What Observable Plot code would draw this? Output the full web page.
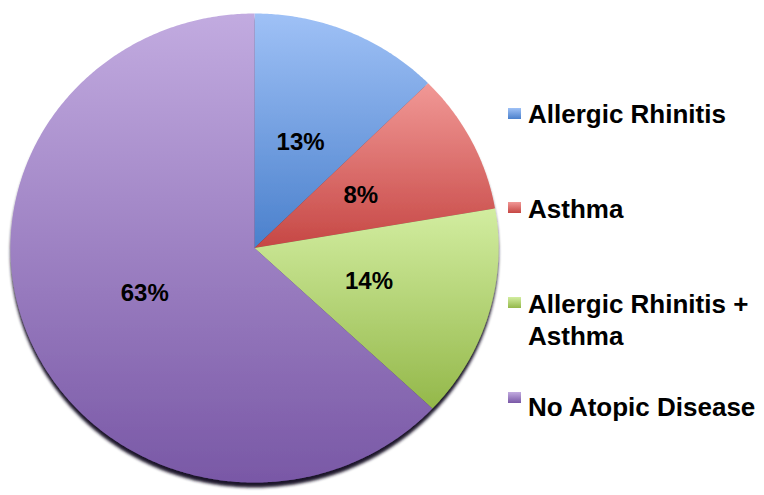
<!DOCTYPE html>
<html>
<head>
<meta charset="utf-8">
<script src="https://cdn.jsdelivr.net/npm/d3@7"></script>
<script src="https://cdn.jsdelivr.net/npm/@observablehq/plot@0.6"></script>
<style>
  html, body { margin: 0; padding: 0; background: #fff; }
  #wrap { position: relative; width: 764px; height: 495px; overflow: hidden; font-family: "Liberation Sans", Arial, sans-serif; }
  #wrap svg { position: absolute; left: 0; top: 0; }
  .leg { position: absolute; left: 528px; font-size: 26px; font-weight: bold; line-height: 32px; color: #000; white-space: nowrap; }
  .sw { position: absolute; left: 508px; width: 13px; height: 11px; }
</style>
</head>
<body>
<div id="wrap"></div>
<script>
// ---- data ----
const categories = ["Allergic Rhinitis", "Asthma", "Allergic Rhinitis + Asthma", "No Atopic Disease"];
const shares = [12.6, 9.7, 14.7, 63.0];           // slice sizes
const pctLabels = ["13%", "8%", "14%", "63%"];    // labels printed on the slices
const colorsTop = ["#9fc1f6", "#f19896", "#d2eda0", "#c2abe0"];
const colorsBottom = ["#4a80cc", "#c64744", "#94b84a", "#7958a6"];
const legendLines = [["Allergic Rhinitis"], ["Asthma"], ["Allergic Rhinitis +", "Asthma"], ["No Atopic Disease"]];

// ---- geometry from d3.pie (clockwise from 12 o'clock) ----
const arcs = d3.pie().sort(null).value(d => d)(shares);
const pts = [];
arcs.forEach((a, i) => {
  const cat = categories[i];
  const fill = `url(#grad${i})`;
  pts.push({cat, fill, x: 0, y: 0});
  const n = Math.max(8, Math.ceil((a.endAngle - a.startAngle) / (Math.PI / 360)));
  for (let k = 0; k <= n; k++) {
    const t = a.startAngle + (a.endAngle - a.startAngle) * k / n;
    pts.push({cat, fill, x: Math.sin(t), y: Math.cos(t)});
  }
  pts.push({cat, fill, x: 0, y: 0});
});
const labelPts = arcs.map((a, i) => {
  const m = (a.startAngle + a.endAngle) / 2;
  return {label: pctLabels[i], x: 0.49 * Math.sin(m), y: 0.49 * Math.cos(m)};
});

const plot = Plot.plot({
  width: 764,
  height: 495,
  x: {domain: [-1, 1], range: [10, 498], axis: null},
  y: {domain: [-1, 1], range: [482, 13], axis: null},
  color: {type: "identity"},
  marks: [
    Plot.line(pts, {x: "x", y: "y", z: "cat", fill: "fill", stroke: "none", curve: "linear"}),
    Plot.text(labelPts, {x: "x", y: "y", text: "label", fontSize: 24, fontWeight: "bold",
      fontFamily: "Liberation Sans, Arial, sans-serif", fill: "#000"})
  ]
});

// gradient definitions referenced by the slice fills
const svg = d3.select(plot);
const defs = svg.insert("defs", ":first-child");
categories.forEach((c, i) => {
  const g = defs.append("linearGradient").attr("id", `grad${i}`).attr("x1", 0).attr("y1", 0).attr("x2", 0).attr("y2", 1);
  g.append("stop").attr("offset", "0%").attr("stop-color", colorsTop[i]);
  g.append("stop").attr("offset", "100%").attr("stop-color", colorsBottom[i]);
});
const f = defs.append("filter").attr("id", "shadow").attr("x", "-5%").attr("y", "-5%").attr("width", "110%").attr("height", "114%");
f.append("feDropShadow").attr("dx", 0).attr("dy", 5).attr("stdDeviation", 1.8).attr("flood-color", "#1e1429").attr("flood-opacity", 1);
svg.select('g[aria-label="line"]').attr("filter", "url(#shadow)");

const wrap = document.getElementById("wrap");
wrap.appendChild(plot);

// legend (HTML, placed to the right of the pie)
const legendTops = [98, 193, 288, 391];
const swatchTops = [108, 202, 297, 392];
categories.forEach((c, i) => {
  const sw = document.createElement("div");
  sw.className = "sw";
  sw.style.top = swatchTops[i] + "px";
  sw.style.background = `linear-gradient(${colorsTop[i]}, ${colorsBottom[i]})`;
  wrap.appendChild(sw);
  const t = document.createElement("div");
  t.className = "leg";
  t.style.top = legendTops[i] + "px";
  t.innerHTML = legendLines[i].join("<br>");
  wrap.appendChild(t);
});
</script>
</body>
</html>
